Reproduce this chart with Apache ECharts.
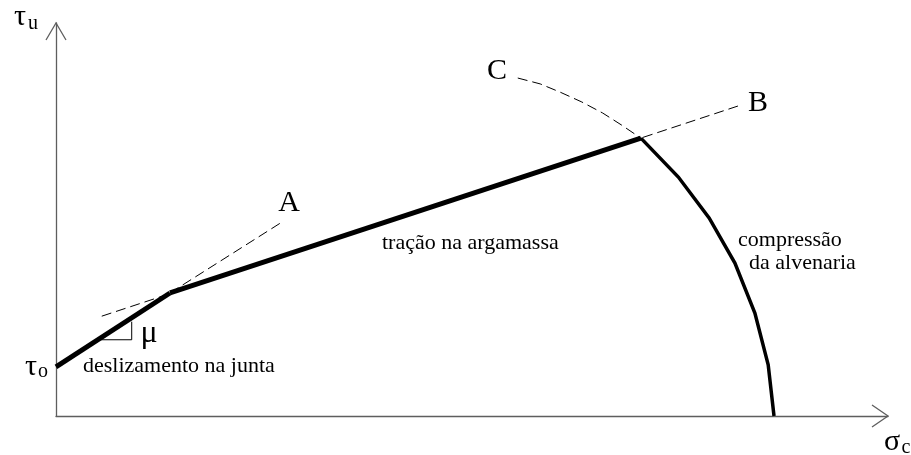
<!DOCTYPE html>
<html>
<head>
<meta charset="utf-8">
<script src="https://cdn.jsdelivr.net/npm/echarts@6/dist/echarts.min.js"></script>
<style>
  html, body { margin: 0; padding: 0; background: #fff; }
  #chart { width: 911px; height: 455px; }
</style>
</head>
<body>
<div id="chart"></div>
<script>
// Shear strength envelope of masonry: tau_u vs sigma_c (schematic units, 0-100)

// Friction (joint sliding) branch: starts at tau_o, slope mu
const slidingX = [0, 13.7];
const slidingY = [12.5, 31.3];

// Mortar tension branch
const tensionX = [13.7, 70.3];
const tensionY = [31.3, 70.7];

// Masonry compression branch, down to the sigma axis
const compressionX = [70.3, 74.8, 78.5, 81.6, 84.0, 85.6, 86.3];
const compressionY = [70.7, 60.8, 50.4, 38.9, 26.2, 13.0, 0];

// Dashed extensions
const lineAX = [13.7, 27.2];            // friction line continued to A
const lineAY = [31.3, 49.4];
const lineBX = [5.5, 82.0];             // tension line continued both ways, to B
const lineBY = [25.4, 78.9];
const curveCX = [55.5, 58.2, 60.6, 63.2, 65.7, 68.0, 70.3];   // compression curve continued to C
const curveCY = [86.0, 84.5, 82.4, 79.9, 77.1, 74.0, 70.7];

// Slope triangle for mu
const muTriX = [5.3, 9.1, 9.1];
const muTriY = [19.4, 19.4, 24.0];

const zip = (xs, ys) => xs.map((x, i) => [x, ys[i]]);

const FONT = '"Liberation Serif", "Times New Roman", serif';
const chart = echarts.init(document.getElementById('chart'), null, { renderer: 'canvas' });

const G = { left: 56, top: 23, right: 23, bottom: 39 };
const gx0 = G.left, gy1 = 455 - G.bottom, gx1 = 911 - G.right, gy0 = G.top;
const axisColor = '#5e5e5e';

function lineSeries(name, data, width, dashed) {
  return {
    name, type: 'line', data,
    symbol: 'none', silent: true, animation: false,
    lineStyle: { color: '#000', width, type: dashed ? [10, 5] : 'solid', cap: 'butt', join: 'miter' },
    z: dashed ? 2 : 3
  };
}

function txt(text, x, y, size, align) {
  return {
    type: 'text', silent: true,
    style: { text, x, y, font: size + 'px ' + FONT, fill: '#000',
             textAlign: align || 'left', textVerticalAlign: 'middle' }
  };
}

chart.setOption({
  animation: false,
  backgroundColor: '#fff',
  grid: G,
  xAxis: {
    type: 'value', min: 0, max: 100,
    axisLine: { show: true, onZero: false, lineStyle: { color: axisColor, width: 1.3 } },
    axisTick: { show: false }, axisLabel: { show: false }, splitLine: { show: false }
  },
  yAxis: {
    type: 'value', min: 0, max: 100,
    axisLine: { show: true, onZero: false, lineStyle: { color: axisColor, width: 1.3 } },
    axisTick: { show: false }, axisLabel: { show: false }, splitLine: { show: false }
  },
  series: [
    lineSeries('A', zip(lineAX, lineAY), 1, true),
    lineSeries('B', zip(lineBX, lineBY), 1, true),
    lineSeries('C', zip(curveCX, curveCY), 1, true),
    lineSeries('mu', zip(muTriX, muTriY), 1, false),
    lineSeries('deslizamento', zip(slidingX, slidingY), 5, false),
    lineSeries('tracao', zip(tensionX, tensionY), 5, false),
    lineSeries('compressao', zip(compressionX, compressionY), 3.5, false)
  ],
  graphic: [
    // open arrow heads on both axes
    { type: 'polyline', silent: true,
      shape: { points: [[gx0 - 10, gy0 + 17], [gx0, gy0], [gx0 + 10, gy0 + 17]] },
      style: { stroke: axisColor, lineWidth: 1.3, fill: null } },
    { type: 'polyline', silent: true,
      shape: { points: [[gx1 - 16, gy1 - 11], [gx1, gy1], [gx1 - 16, gy1 + 11]] },
      style: { stroke: axisColor, lineWidth: 1.3, fill: null } },
    txt('τ', 20, 17, 30, 'center'),
    txt('u', 33, 24, 20, 'center'),
    txt('τ', 31, 367, 30, 'center'),
    txt('o', 43, 372, 20, 'center'),
    txt('σ', 892, 442, 30, 'center'),
    txt('c', 906, 448, 20, 'center'),
    txt('μ', 149, 334, 32, 'center'),
    txt('A', 289, 203, 30, 'center'),
    txt('B', 758, 103, 30, 'center'),
    txt('C', 497, 71, 30, 'center'),
    txt('deslizamento na junta', 83, 366, 22),
    txt('tração na argamassa', 382, 243, 22),
    txt('compressão', 738, 240, 22),
    txt('da alvenaria', 749, 263, 22)
  ]
});
</script>
</body>
</html>
